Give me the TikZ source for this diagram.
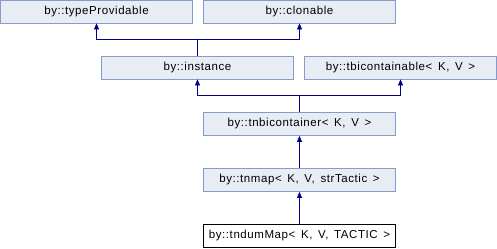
\documentclass[tikz,border=0pt]{standalone}
\usepackage{fontspec}
\usepackage{tikz}
\usetikzlibrary{arrows.meta, positioning, calc}
\newfontfamily\dxfont[LetterSpace=5,WordSpace=1.5]{Liberation Sans}
\definecolor{boxfill}{RGB}{232,236,244}
\definecolor{boxborder}{RGB}{132,155,204}
\definecolor{inhcolor}{RGB}{0,0,140}
\tikzset{
  clsbox/.style={rectangle,draw=boxborder,fill=boxfill,line width=0.75bp,minimum width=192bp,minimum height=23bp,inner sep=0pt,font=\dxfont\fontsize{11.5bp}{13bp}\selectfont},
  leafbox/.style={clsbox,draw=black,fill=white},
  inharr/.style={-{Triangle[length=6bp,width=5bp]},line width=0.75bp,color=inhcolor}
}

\begin{document}
\begin{tikzpicture}[x=1bp,y=-1bp]
  \useasboundingbox (0,0) rectangle (497,248);

  %% Base classes
  \node[clsbox] (typeprov) at (96.5,11.5) {by::typeProvidable};
  \node[clsbox] (clonable) at (299.5,11.5) {by::clonable};

  %% Second row
  \node[clsbox] (instance) at (197.5,67.5) {by::instance};
  \node[clsbox] (tbicont) at (400.5,67.5) {by::tbicontainable< K, V >};

  %% Container chain
  \node[clsbox] (tnbicont) at (299.5,124) {by::tnbicontainer< K, V >};
  \node[clsbox] (tnmap) at (299.5,180) {by::tnmap< K, V, strTactic >};
  \node[leafbox] (tndummap) at (299.5,236) {by::tndumMap< K, V, TACTIC >};

  \draw[inharr] (instance.north) -- ++(0,-16.5) -| (typeprov.south);
  \draw[inharr] (instance.north) -- ++(0,-16.5) -| (clonable.south);
  \draw[inharr] (tnbicont.north) -- ++(0,-16.5) -| (instance.south);
  \draw[inharr] (tnbicont.north) -- ++(0,-16.5) -| (tbicont.south);
  \draw[inharr] (tnmap.north) -- (tnbicont.south);
  \draw[inharr] (tndummap.north) -- (tnmap.south);
\end{tikzpicture}
\end{document}
